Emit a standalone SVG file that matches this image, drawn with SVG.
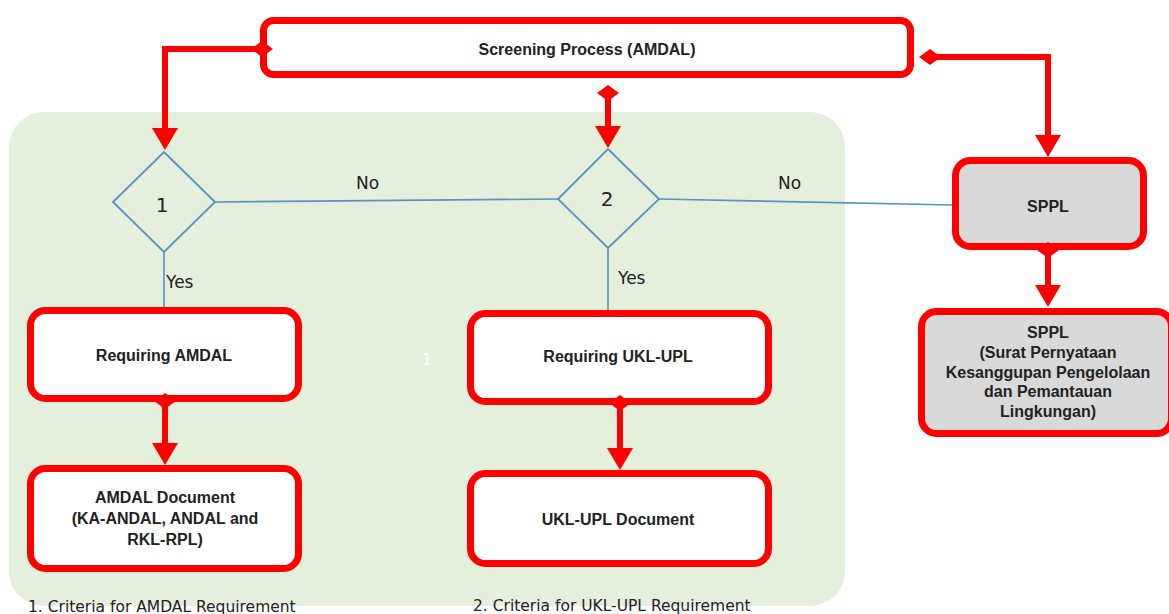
<svg xmlns="http://www.w3.org/2000/svg" width="1169" height="614" viewBox="0 0 1169 614">
<style>
.box{fill:#ffffff;stroke:#ff0000;stroke-width:7}
.grey{fill:#d9d9d9}
.dia{fill:none;stroke:#5593c4;stroke-width:1.8}
.bl{fill:none;stroke:#5593c4;stroke-width:1.6}
.con{fill:none;stroke:#ff0000;stroke-width:6;marker-start:url(#dm);marker-end:url(#ar)}
.bt{font-family:"Liberation Sans",Arial,sans-serif;font-weight:bold;font-size:16px;fill:#222;text-anchor:middle}
.gt{font-family:"DejaVu Sans","Liberation Sans",sans-serif;font-size:17px;fill:#222}
.cap{font-family:"DejaVu Sans","Liberation Sans",sans-serif;font-size:15.5px;fill:#222}
</style>
<defs>
<marker id="ar" markerUnits="userSpaceOnUse" viewBox="0 0 22 26" refX="4" refY="13" markerWidth="22" markerHeight="26" orient="auto">
<path d="M0,0 L22,13 L0,26 z" fill="#ff0000"/>
</marker>
<marker id="dm" markerUnits="userSpaceOnUse" viewBox="0 0 22 16" refX="11" refY="8" markerWidth="22" markerHeight="16" orient="0">
<path d="M0,8 L11,0 L22,8 L11,16 z" fill="#ff0000"/>
</marker>
</defs>
<rect id="panel" x="9" y="112" width="836" height="494" rx="35" fill="#e5f0dc"/>
<g id="decision-lines">
<path class="bl" d="M164,252 V307"/>
<path class="bl" d="M608,248 V310"/>
<path class="bl" d="M215,202 L558,199"/>
<path class="bl" d="M659,199 L953,205"/>
</g>
<g id="diamond1">
<polygon class="dia" points="164,152 215,202 164,252 113,202"/>
<text class="gt" x="162" y="212" text-anchor="middle" style="font-size:20px">1</text>
</g>
<g id="diamond2">
<polygon class="dia" points="608,149 659,199 608,248 558,199"/>
<text class="gt" x="607" y="206" text-anchor="middle" style="font-size:20px">2</text>
</g>
<g id="labels">
<text class="gt" x="166" y="288">Yes</text>
<text class="gt" x="618" y="284">Yes</text>
<text class="gt" x="356" y="189">No</text>
<text class="gt" x="778" y="189">No</text>
<text class="gt" x="427" y="365" text-anchor="middle" style="fill:#ffffff;font-size:15px">1</text>
</g>
<g id="screening">
<rect class="box" x="263.5" y="20.5" width="647" height="54" rx="10"/>
<text class="bt" x="587" y="55">Screening Process (AMDAL)</text>
</g>
<g id="req-amdal">
<rect class="box" x="30.5" y="310.5" width="268" height="88" rx="15"/>
<text class="bt" x="164" y="361">Requiring AMDAL</text>
</g>
<g id="amdal-doc">
<rect class="box" x="30.5" y="468.5" width="268" height="100" rx="15"/>
<text class="bt" x="165" y="503">AMDAL Document</text>
<text class="bt" x="165" y="524">(KA-ANDAL, ANDAL and</text>
<text class="bt" x="165" y="545">RKL-RPL)</text>
</g>
<g id="req-ukl">
<rect class="box" x="470.5" y="313.5" width="298" height="88" rx="15"/>
<text class="bt" x="618" y="362">Requiring UKL-UPL</text>
</g>
<g id="ukl-doc">
<rect class="box" x="470.5" y="473.5" width="298" height="90" rx="15"/>
<text class="bt" x="618" y="525">UKL-UPL Document</text>
</g>
<g id="sppl">
<rect class="box grey" x="955.5" y="160.5" width="188" height="86" rx="15"/>
<text class="bt" x="1048" y="212">SPPL</text>
</g>
<g id="sppl-detail">
<rect class="box grey" x="921.5" y="311.5" width="250" height="122" rx="15"/>
<text class="bt" x="1048" y="338">SPPL</text>
<text class="bt" x="1048" y="358">(Surat Pernyataan</text>
<text class="bt" x="1048" y="378">Kesanggupan Pengelolaan</text>
<text class="bt" x="1048" y="397">dan Pemantauan</text>
<text class="bt" x="1048" y="417">Lingkungan)</text>
</g>
<g id="connectors">
<path class="con" d="M262,49 H165 V132"/>
<path class="con" d="M930,57 H1048 V139"/>
<path class="con" d="M608,93 V130"/>
<path class="con" d="M165,401 V447"/>
<path class="con" d="M620,403 V452"/>
<path class="con" d="M1048,250 V289"/>
</g>
<g id="captions">
<text class="cap" x="28" y="612">1. Criteria for AMDAL Requirement</text>
<text class="cap" x="473" y="611">2. Criteria for UKL-UPL Requirement</text>
</g>
</svg>
